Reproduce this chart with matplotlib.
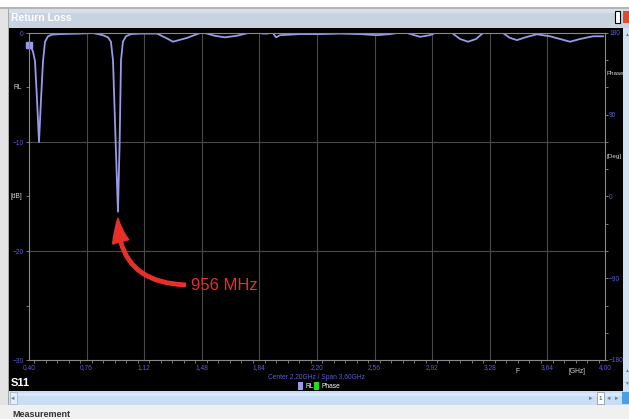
import numpy as np
import matplotlib
matplotlib.use("Agg")
import matplotlib.pyplot as plt
from matplotlib.patches import Rectangle
from matplotlib.ticker import MultipleLocator

# S11 return loss sweep, 0.40 - 4.00 GHz
freq_ghz = [0.400, 0.4125, 0.425, 0.4375, 0.450, 0.4625, 0.475, 0.4875, 0.500, 0.519,
            0.544, 0.594, 0.720, 0.800, 0.862, 0.894, 0.912, 0.925, 0.9415, 0.956,
            0.9665, 0.975, 0.987, 1.006, 1.037, 1.100, 1.200, 1.2625, 1.300, 1.3875,
            1.469, 1.484, 1.500, 1.560, 1.625, 1.700, 1.769, 1.8125, 1.856, 1.894,
            1.906, 1.925, 1.944, 1.969, 2.094, 2.219, 2.344, 2.469, 2.575, 2.656,
            2.700, 2.731, 2.7625, 2.844, 2.906, 2.9375, 2.9875, 3.044, 3.094, 3.144,
            3.194, 3.2375, 3.300, 3.3625, 3.406, 3.450, 3.5125, 3.575, 3.656, 3.719,
            3.781, 3.844, 3.925, 3.9875]
rl_db = [-1.1, -1.3, -1.7, -2.6, -6.1, -10.0, -6.1, -2.6, -0.8, -0.3,
         -0.15, -0.1, -0.05, 0.0, -0.2, -0.4, -0.8, -2.5, -10.0, -16.4,
         -10.0, -2.5, -0.8, -0.3, -0.1, -0.05, -0.05, -0.5, -0.8, -0.45,
         0.0, 0.3, 0.0, -0.25, -0.4, -0.25, 0.0, 0.3, -0.05, -0.05,
         0.1, 0.0, -0.4, -0.2, -0.1, -0.1, -0.05, -0.1, -0.2, -0.1,
         0.0, 0.2, 0.0, -0.35, -0.2, 0.0, 0.3, 0.0, -0.55, -0.8,
         -0.55, 0.0, 0.3, 0.0, -0.45, -0.65, -0.35, -0.12, -0.3, -0.55,
         -0.8, -0.55, -0.3, -0.3]

x_ticks = [0.40, 0.76, 1.12, 1.48, 1.84, 2.20, 2.56, 2.92, 3.28, 3.64, 4.00]
y_ticks = [0, -10, -20, -30]
phase_ticks = [-180, -90, 0, 90, 180]
marker_freq = 0.956
marker_db = -16.4
marker_text = "956 MHz"

W, H = 629, 419
trace_col = "#9a9ae8"
tick_col = "#5c5cd6"
grid_col = "#4a4a4a"
ui_font = "Liberation Sans"
small = 4.8

plt.rcParams["font.family"] = ["Liberation Sans", "DejaVu Sans"]

fig = plt.figure(figsize=(W / 100, H / 100), dpi=100)
fig.patch.set_facecolor("white")


def box(x0, y0, x1, y1, color, z=-5, **kw):
    fig.add_artist(Rectangle((x0 / W, 1 - y1 / H), (x1 - x0) / W, (y1 - y0) / H,
                             transform=fig.transFigure, facecolor=color, zorder=z,
                             **kw))


def label(x, y, s, **kw):
    fig.text(x / W, 1 - y / H, s, **kw)


# window frame
box(0, 8, 9, 419, "#e4e4e4")
box(8, 8, 9, 405, "#a8a8a8")
box(0, 7, 629, 9, "#b4b4b4")
box(9, 9, 629, 28, "#c7d3df")
box(9, 9, 629, 13, "#d6e0ea")
box(9, 28, 623, 391, "black")
box(623, 28, 629, 405, "#d3e2f3")
box(9, 391, 629, 405, "#c9ddf5")
box(9, 393, 629, 396, "#dbe8f8")
box(0, 405, 629, 419, "#f0f0f0")
box(10, 392, 17, 404, "#e6eefa", edgecolor="#9ab0c8", lw=0.5)
box(597, 392, 604, 404, "white", edgecolor="#7a8ea4", lw=0.5)
box(622, 392, 629, 404, "#4aa0e0")
box(615, 11, 620, 23, "white", z=5, edgecolor="black", lw=0.8)
box(623, 11, 629, 23, "#e04a2a", z=5)
label(11, 18, "Return Loss", color="white", fontsize=7.5, fontweight="bold",
      va="center", ha="left")
label(12, 414, "Measurement", color="#333333", fontsize=6.5, fontweight="bold",
      va="center", ha="left")
label(13, 398, "\u25c4", color="#6080a0", fontsize=4, va="center", ha="center")
label(591, 398, "\u25ba", color="#6080a0", fontsize=4, va="center", ha="center")
label(600.5, 398, "1", color="#333333", fontsize=4.5, va="center", ha="center")
label(609, 398, "\u25c4", color="#6080a0", fontsize=4, va="center", ha="center")
label(617, 398, "\u25ba", color="#6080a0", fontsize=4, va="center", ha="center")
label(626, 34, "\u25b2", color="#6080a0", fontsize=3.5, va="center", ha="center")
label(626, 370, "\u25b2", color="#6080a0", fontsize=3.5, va="center", ha="center")
label(626, 383, "\u25bc", color="#6080a0", fontsize=3.5, va="center", ha="center")

# return loss axes
ax = fig.add_axes([29 / W, 1 - 360 / H, 576 / W, 327 / H])
ax.set_facecolor("black")
ax.set_xlim(0.40, 4.00)
ax.set_ylim(-30, 0)
ax.plot(freq_ghz, rl_db, color=trace_col, lw=1.3, solid_joinstyle="round")
ax.plot(freq_ghz[0], rl_db[0], marker="s", ms=4.5, color=trace_col, clip_on=False)

ax.set_xticks(x_ticks)
ax.set_xticklabels([f"{v:.2f}".replace(".", ",") for v in x_ticks])
ax.xaxis.set_minor_locator(MultipleLocator(0.072))
ax.set_yticks(y_ticks)
ax.yaxis.set_minor_locator(MultipleLocator(5))
ax.tick_params(axis="both", which="both", colors="#8a8a8a", labelcolor=tick_col,
               labelsize=small, direction="out", length=2.5, width=0.6, pad=1.5)
ax.tick_params(axis="x", which="major", length=0, pad=3)
for s in ax.spines.values():
    s.set_color("#8a8a8a")
    s.set_linewidth(0.8)
for v in x_ticks[1:-1]:
    ax.axvline(v, color=grid_col, lw=0.8, zorder=0)
for v in y_ticks[1:-1]:
    ax.axhline(v, color=grid_col, lw=0.8, zorder=0)

ax.text(-0.012, -5, "RL", transform=ax.get_yaxis_transform(), color="#d8d8d8",
        fontsize=small, ha="right", va="center")
ax.text(-0.012, -15, "[dB]", transform=ax.get_yaxis_transform(), color="#d8d8d8",
        fontsize=small, ha="right", va="center")
ax.text(3.456, -31.1, "F", color="#d8d8d8", fontsize=small,
        ha="center", va="center", clip_on=False)
ax.text(3.825, -31.1, "[GHz]", color="#d8d8d8", fontsize=small,
        ha="center", va="center", clip_on=False)

# phase scale on the right
ax2 = ax.twinx()
ax2.set_ylim(-180, 180)
ax2.set_yticks(phase_ticks)
ax2.yaxis.set_minor_locator(MultipleLocator(30))
ax2.tick_params(axis="y", which="both", colors="#8a8a8a", labelcolor=tick_col,
                labelsize=small, direction="out", length=2, width=0.6, pad=1)
for s in ax2.spines.values():
    s.set_visible(False)
ax2.text(1.003, 135, "Phase", transform=ax2.get_yaxis_transform(), color="#d8d8d8",
         fontsize=4.5, ha="left", va="center")
ax2.text(1.003, 44, "[Deg]", transform=ax2.get_yaxis_transform(), color="#d8d8d8",
         fontsize=4.5, ha="left", va="center")

# status line under the plot
label(11, 383, "S11", color="white", fontsize=8, fontweight="bold", va="center",
      ha="left")
label(316, 377, "Center 2,20GHz / Span 3,60GHz", color=tick_col, fontsize=small,
      va="center", ha="center")
box(298, 382, 303, 390, trace_col, z=5)
label(305, 386, "RL", color="white", fontsize=small, va="center", ha="left")
box(314, 382, 319, 390, "#22dd22", z=5)
label(321, 386, "Phase", color="white", fontsize=small, va="center", ha="left")

# resonance marker
ax.annotate(marker_text, xy=(marker_freq, marker_db - 0.6),
            xytext=(191 / W, 1 - 285 / H), textcoords="figure fraction",
            color="#e8302a", fontsize=12, ha="left", va="center",
            annotation_clip=False,
            arrowprops=dict(arrowstyle="simple,head_length=1.7,head_width=1.2,tail_width=0.25",
                            mutation_scale=10, color="#e8302a", relpos=(0, 0.5),
                            shrinkA=2, shrinkB=0,
                            connectionstyle="angle3,angleA=0,angleB=90"))

fig.savefig("out.png", dpi=100, facecolor=fig.get_facecolor())
